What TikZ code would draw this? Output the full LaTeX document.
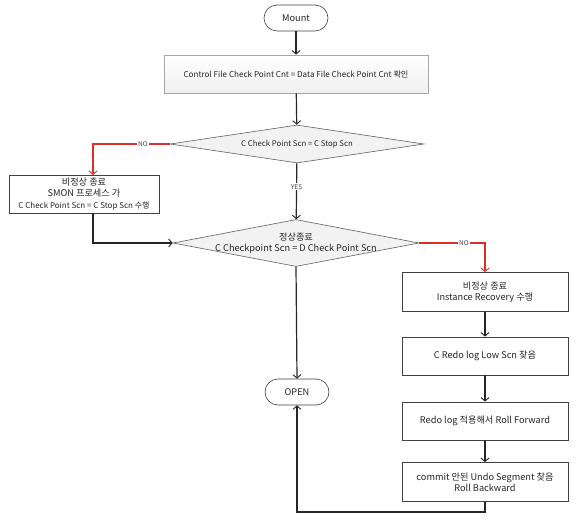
\documentclass[tikz,border=0pt]{standalone}
\usepackage{fontspec}
\setmainfont{Noto Sans CJK KR}
\usetikzlibrary{shapes.geometric,arrows.meta,calc}
\definecolor{edge}{HTML}{404040}
\definecolor{nored}{HTML}{D9302C}
\definecolor{dfill}{HTML}{F2F2F2}
\begin{document}
\begin{tikzpicture}[x=1pt,y=-1pt,
  every node/.style={font=\fontsize{9.2}{11}\selectfont,text=black!85},
  term/.style={draw=edge,line width=0.6pt,rounded corners=13pt,minimum width=64pt,minimum height=26pt,inner sep=0pt,fill=white,font=\fontsize{9.2}{11}\selectfont},
  procbox/.style={draw=edge,line width=0.8pt,fill=white,align=center,inner sep=0pt},
  topbox/.style={draw=gray!70,line width=0.8pt,top color=white,bottom color=gray!12,align=center,inner sep=0pt},
  decision/.style={diamond,draw=gray!75!black,line width=0.6pt,fill=dfill,inner sep=0pt},
  flow/.style={draw=black!85,line width=1.2pt,-{Straight Barb[length=3.5pt,width=8pt,line width=0.9pt]}},
  noflow/.style={flow,draw=nored},
  lbl/.style={fill=white,inner sep=1pt,font=\fontsize{6.5}{8}\selectfont,text=black!75}
]
\useasboundingbox (0,0) rectangle (580,521);
\node[term] (mount) at (296,18) {Mount};
\node[topbox,minimum width=264pt,minimum height=38pt,font=\fontsize{8.1}{10}\selectfont] (chk) at (296,74) {Control File Check Point Cnt = Data File Check Point Cnt 확인};
\node[decision,minimum width=254pt,minimum height=38pt,label={[font=\fontsize{7.8}{9}\selectfont,text=black!85]center:C Check Point Scn = C Stop Scn}] (d1) at (297,144) {};
\node[procbox,minimum width=150pt,minimum height=38pt,font=\fontsize{9.2}{11.5}\selectfont] (smon) at (84,194) {비정상 종료\\SMON 프로세스 가\\{\fontsize{8}{9.5}\selectfont C Check Point Scn = C Stop Scn 수행}};
\node[decision,minimum width=246pt,minimum height=47pt,label={[align=center,font=\fontsize{9.2}{11}\selectfont,text=black!85]center:정상종료\\C Checkpoint Scn = D Check Point Scn}] (d2) at (296,243) {};
\node[procbox,minimum width=166pt,minimum height=39pt] (inst) at (485,292) {비정상 종료\\Instance Recovery 수행};
\node[procbox,minimum width=166pt,minimum height=38pt] (redo) at (485,356) {C Redo log Low Scn 찾음};
\node[procbox,minimum width=166pt,minimum height=38pt] (fwd) at (485,421) {Redo log 적용해서 Roll Forward};
\node[procbox,minimum width=166pt,minimum height=39pt] (bwd) at (485,482) {commit 안된 Undo Segment 찾음\\Roll Backward};
\node[term] (open) at (297,392) {OPEN};
\coordinate (smonOut) at (93,213);
\coordinate (smonIn) at (93,175);
\draw[flow] (mount) -- (chk);
\draw[flow] (chk) -- (d1);
\draw[noflow] (d1.west) -- node[lbl,pos=0.35] {NO} (93,144) -- (smonIn);
\draw[flow] (d1) -- node[lbl,pos=0.42] {YES} (d2);
\draw[flow] (smonOut) -- (93,243) -- (d2.west);
\draw[noflow] (d2.east) -- node[lbl,pos=0.68] {NO} (485,243) -- (inst.north);
\draw[flow] (inst) -- (redo);
\draw[flow] (redo) -- (fwd);
\draw[flow] (fwd) -- (bwd);
\draw[flow] (d2.south) -- (open.north);
\draw[flow] (bwd.south) -- (485,512) -- (297,512) -- (open.south);
\end{tikzpicture}
\end{document}
